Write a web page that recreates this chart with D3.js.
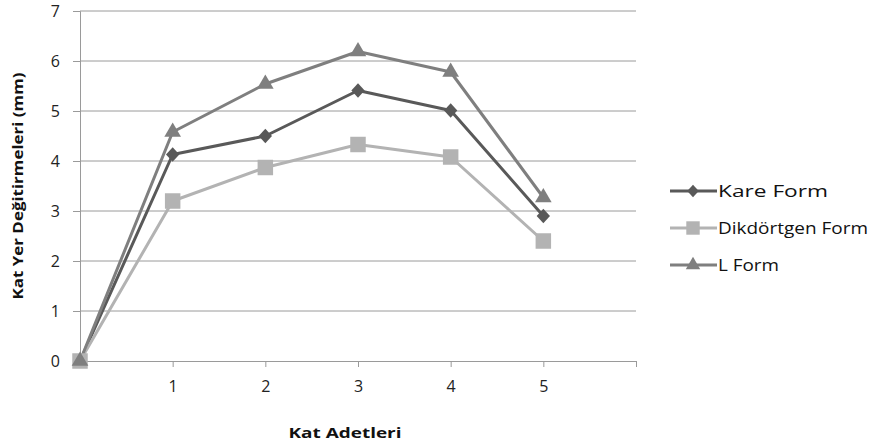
<!DOCTYPE html>
<html><head><meta charset="utf-8">
<script src="https://cdn.jsdelivr.net/npm/d3@7"></script>
<style>body{margin:0;background:#fff}svg{display:block}text{font-family:"Open Sans",Lato,sans-serif}</style>
</head><body><svg width="870" height="448"></svg>
<script>
const categories = [0, 1, 2, 3, 4, 5];
const xTicks = [1, 2, 3, 4, 5, 6];
const xTickLabels = ["1", "2", "3", "4", "5", ""];
const yTicks = [0, 1, 2, 3, 4, 5, 6, 7];
const kareForm = [0, 4.13, 4.5, 5.41, 5.01, 2.9];
const dikdortgenForm = [0, 3.2, 3.87, 4.33, 4.08, 2.4];
const lForm = [0, 4.58, 5.54, 6.19, 5.78, 3.27];
const seriesNames = ["Kare Form", "Dikdörtgen Form", "L Form"];

const series = [
  {name: seriesNames[0], values: kareForm, color: "#595959", symbol: d3.symbolDiamond, size: 60, sx: 1.6},
  {name: seriesNames[1], values: dikdortgenForm, color: "#b3b3b3", symbol: d3.symbolSquare, size: 240, sx: 1},
  {name: seriesNames[2], values: lForm, color: "#7f7f7f", symbol: d3.symbolTriangle, size: 120, sx: 1}
];

const svg = d3.select("svg");
const x = d3.scaleLinear().domain([0, 6]).range([80, 636]);
const y = d3.scaleLinear().domain([0, 7]).range([361, 11]);

svg.append("g").selectAll("line").data(yTicks.filter(d => d > 0)).join("line")
  .attr("x1", x(0)).attr("x2", x(6)).attr("y1", d => y(d)).attr("y2", d => y(d))
  .attr("stroke", "#9a9a9a").attr("stroke-width", 1);

const yAxis = svg.append("g").attr("transform", `translate(${x(0)},0)`)
  .call(d3.axisLeft(y).tickValues(yTicks).tickSize(7).tickPadding(13).tickFormat(d3.format("d")));
yAxis.select(".domain").attr("stroke", "#9a9a9a");
yAxis.selectAll(".tick line").attr("stroke", "#9a9a9a");
yAxis.selectAll("text").attr("font-size", 16).attr("fill", "#222");

const xAxis = svg.append("g").attr("transform", `translate(0,${y(0)})`)
  .call(d3.axisBottom(x).tickValues(xTicks).tickSize(6).tickPadding(14).tickFormat((d, i) => xTickLabels[i]));
xAxis.select(".domain").attr("stroke", "#9a9a9a");
xAxis.selectAll(".tick line").attr("stroke", "#9a9a9a");
xAxis.selectAll("text").attr("font-size", 16).attr("fill", "#222");

svg.append("text").attr("x", 345).attr("y", 438).attr("text-anchor", "middle")
  .attr("font-size", 15).attr("font-weight", "bold").attr("fill", "#111")
  .attr("textLength", 113).attr("lengthAdjust", "spacingAndGlyphs").text("Kat Adetleri");
svg.append("text").attr("transform", "translate(23,186) rotate(-90)").attr("text-anchor", "middle")
  .attr("font-size", 15).attr("font-weight", "bold").attr("fill", "#111")
  .attr("textLength", 227).attr("lengthAdjust", "spacingAndGlyphs").text("Kat Yer Değitirmeleri (mm)");

const line = d3.line().x((d, i) => x(categories[i])).y(d => y(d));
series.forEach(s => {
  svg.append("path").datum(s.values).attr("d", line).attr("fill", "none")
    .attr("stroke", s.color).attr("stroke-width", 3).attr("stroke-linejoin", "round");
});
series.forEach(s => {
  svg.append("g").selectAll("path").data(s.values).join("path")
    .attr("d", d3.symbol().type(s.symbol).size(s.size))
    .attr("transform", (d, i) => `translate(${x(categories[i])},${y(d)}) scale(${s.sx},1)`)
    .attr("fill", s.color);
});

const legY = [191, 228, 265];
const legLen = [110, 150, 61];
series.forEach((s, i) => {
  const g = svg.append("g").attr("transform", `translate(0,${legY[i]})`);
  g.append("line").attr("x1", 670).attr("x2", 717).attr("y1", 0).attr("y2", 0)
    .attr("stroke", s.color).attr("stroke-width", 3);
  g.append("path").attr("d", d3.symbol().type(s.symbol).size(s.size * 0.75))
    .attr("transform", `translate(693,0) scale(${s.sx},1)`).attr("fill", s.color);
  g.append("text").attr("x", 718).attr("y", 6).attr("font-size", 16).attr("fill", "#111")
    .attr("textLength", legLen[i]).attr("lengthAdjust", "spacingAndGlyphs").text(s.name);
});
</script></body></html>
